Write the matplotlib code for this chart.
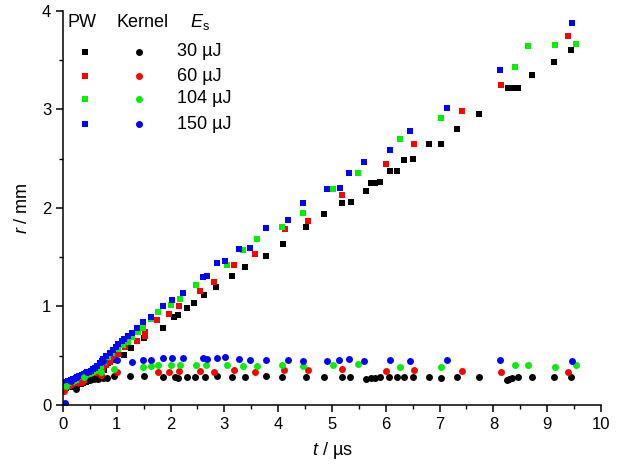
import matplotlib

matplotlib.use("Agg")

import matplotlib.pyplot as plt
from matplotlib.ticker import MultipleLocator

plt.rcParams["font.family"] = ["Liberation Sans", "DejaVu Sans"]
plt.rcParams["mathtext.fontset"] = "custom"
plt.rcParams["mathtext.rm"] = "Liberation Sans"
plt.rcParams["mathtext.it"] = "Liberation Sans:italic"

# PW (squares)
pw_t_30 = [0.02, 0.06, 0.10, 0.14, 0.18, 0.22, 0.26, 0.30, 0.34, 0.38, 0.42, 0.46, 0.50, 0.55, 0.60,
           0.65, 0.70, 0.76, 0.84, 0.94, 1.14, 1.26, 1.51, 1.85, 2.07, 2.14, 2.30, 2.44, 2.63, 2.85,
           3.14, 3.38, 3.77, 4.09, 4.52, 4.85, 5.18, 5.35, 5.64, 5.72, 5.80, 5.90, 6.08, 6.20, 6.33,
           6.51, 6.80, 7.03, 7.33, 7.73, 8.28, 8.35, 8.46, 8.72, 9.12, 9.44]
pw_r_30 = [0.17, 0.17, 0.18, 0.18, 0.19, 0.19, 0.20, 0.21, 0.21, 0.22, 0.23, 0.24, 0.25, 0.26, 0.27,
           0.29, 0.31, 0.36, 0.43, 0.46, 0.51, 0.58, 0.68, 0.78, 0.89, 0.91, 0.98, 1.04, 1.12, 1.20,
           1.31, 1.40, 1.51, 1.63, 1.81, 1.94, 2.05, 2.06, 2.17, 2.25, 2.25, 2.26, 2.38, 2.38, 2.49,
           2.50, 2.65, 2.65, 2.80, 2.95, 3.22, 3.22, 3.22, 3.35, 3.48, 3.60]

pw_t_60 = [0.00, 0.04, 0.08, 0.12, 0.16, 0.20, 0.24, 0.28, 0.32, 0.36, 0.40, 0.44, 0.48, 0.52, 0.56,
           0.60, 0.65, 0.70, 0.75, 0.80, 0.87, 0.94, 1.03, 1.16, 1.38, 1.52, 1.52, 1.75, 1.97, 2.16,
           2.55, 2.81, 3.18, 3.57, 4.12, 4.55, 5.18, 6.01, 6.52, 7.42, 8.14, 9.39]
pw_r_60 = [0.15, 0.17, 0.18, 0.19, 0.20, 0.20, 0.21, 0.22, 0.23, 0.24, 0.25, 0.26, 0.27, 0.28, 0.29,
           0.31, 0.33, 0.36, 0.38, 0.41, 0.44, 0.49, 0.52, 0.59, 0.65, 0.70, 0.74, 0.86, 0.92, 1.00,
           1.16, 1.25, 1.42, 1.53, 1.79, 1.87, 2.13, 2.45, 2.65, 2.98, 3.25, 3.75]

pw_t_104 = [0.00, 0.04, 0.08, 0.12, 0.16, 0.20, 0.24, 0.28, 0.32, 0.36, 0.40, 0.44, 0.48, 0.52, 0.56,
            0.60, 0.65, 0.70, 0.76, 0.84, 0.92, 1.03, 1.12, 1.20, 1.29, 1.39, 1.49, 1.63, 1.76, 2.01,
            2.17, 2.48, 3.05, 3.35, 3.60, 4.07, 4.47, 5.01, 5.48, 6.26, 7.03, 8.41, 8.64, 9.14, 9.54]
pw_r_104 = [0.20, 0.21, 0.22, 0.22, 0.23, 0.24, 0.25, 0.26, 0.27, 0.28, 0.29, 0.30, 0.31, 0.32, 0.33,
            0.35, 0.37, 0.40, 0.44, 0.49, 0.53, 0.57, 0.61, 0.64, 0.69, 0.74, 0.78, 0.87, 0.94, 1.02,
            1.08, 1.22, 1.42, 1.57, 1.69, 1.81, 1.95, 2.19, 2.36, 2.70, 2.91, 3.43, 3.64, 3.65, 3.66]

pw_t_150 = [0.00, 0.03, 0.06, 0.09, 0.12, 0.15, 0.18, 0.21, 0.24, 0.27, 0.30, 0.33, 0.36, 0.39, 0.42,
            0.45, 0.48, 0.52, 0.56, 0.60, 0.64, 0.68, 0.72, 0.75, 0.80, 0.87, 0.93, 0.98, 1.03, 1.09,
            1.14, 1.20, 1.28, 1.38, 1.49, 1.63, 1.86, 2.02, 2.24, 2.60, 2.67, 2.86, 3.01, 3.27, 3.48,
            3.77, 4.18, 4.47, 4.91, 5.14, 5.32, 5.59, 6.07, 6.45, 7.14, 8.12, 9.47]
pw_r_150 = [0.22, 0.23, 0.23, 0.24, 0.24, 0.25, 0.26, 0.26, 0.27, 0.28, 0.29, 0.29, 0.30, 0.31, 0.32,
            0.33, 0.34, 0.35, 0.37, 0.38, 0.40, 0.43, 0.45, 0.47, 0.50, 0.53, 0.56, 0.59, 0.62, 0.65,
            0.67, 0.70, 0.73, 0.78, 0.84, 0.89, 1.00, 1.07, 1.14, 1.30, 1.31, 1.44, 1.46, 1.58, 1.59,
            1.80, 1.88, 2.05, 2.19, 2.20, 2.36, 2.47, 2.59, 2.78, 3.02, 3.40, 3.88]

# Kernel (circles)
k_t_30 = [0.24, 0.50, 0.58, 0.66, 0.74, 0.82, 0.94, 1.25, 1.51, 1.85, 2.08, 2.14, 2.31, 2.45, 2.64,
          2.86, 3.14, 3.38, 3.77, 4.08, 4.52, 4.85, 5.18, 5.34, 5.64, 5.72, 5.80, 5.89, 6.06, 6.20,
          6.33, 6.51, 6.80, 7.02, 7.33, 7.73, 8.26, 8.29, 8.35, 8.46, 8.72, 9.13, 9.44]
k_r_30 = [0.16, 0.25, 0.26, 0.26, 0.27, 0.27, 0.29, 0.29, 0.29, 0.28, 0.28, 0.27, 0.28, 0.28, 0.28,
          0.29, 0.28, 0.28, 0.29, 0.28, 0.28, 0.28, 0.28, 0.28, 0.26, 0.27, 0.27, 0.28, 0.28, 0.28,
          0.28, 0.28, 0.28, 0.27, 0.28, 0.28, 0.25, 0.26, 0.27, 0.28, 0.28, 0.28, 0.28]

k_t_60 = [0.02, 0.35, 0.70, 1.00, 1.76, 1.97, 2.16, 2.55, 2.81, 3.18, 3.57, 4.11, 4.55, 5.18, 6.01,
          6.52, 7.41, 8.14, 9.39]
k_r_60 = [0.14, 0.23, 0.30, 0.33, 0.34, 0.33, 0.35, 0.35, 0.34, 0.36, 0.34, 0.355, 0.36, 0.37, 0.35,
          0.355, 0.345, 0.33, 0.34]

k_t_104 = [0.05, 0.40, 0.70, 0.95, 1.48, 1.63, 1.76, 2.01, 2.17, 2.47, 2.66, 3.05, 3.34, 3.60, 4.07,
           4.47, 5.01, 5.48, 6.26, 7.03, 8.41, 8.64, 9.14, 9.53]
k_r_104 = [0.19, 0.28, 0.34, 0.37, 0.39, 0.40, 0.41, 0.41, 0.41, 0.41, 0.41, 0.41, 0.40, 0.40, 0.41,
           0.40, 0.41, 0.42, 0.39, 0.39, 0.41, 0.41, 0.39, 0.41]

k_t_150 = [0.04, 0.15, 0.45, 0.75, 1.00, 1.28, 1.49, 1.63, 1.86, 2.02, 2.24, 2.61, 2.67, 2.86, 3.01,
           3.27, 3.48, 3.77, 4.19, 4.47, 4.91, 5.13, 5.32, 5.60, 6.08, 6.45, 7.14, 8.12, 9.47]
k_r_150 = [0.02, 0.24, 0.33, 0.45, 0.46, 0.44, 0.46, 0.46, 0.48, 0.48, 0.48, 0.48, 0.47, 0.48, 0.49,
           0.47, 0.46, 0.46, 0.46, 0.45, 0.45, 0.46, 0.47, 0.45, 0.46, 0.45, 0.46, 0.46, 0.45]

energies = ["30 µJ", "60 µJ", "104 µJ", "150 µJ"]
colors = ["#000000", "#ff0000", "#00ee00", "#0000ff"]

pw_series = [(pw_t_30, pw_r_30), (pw_t_60, pw_r_60), (pw_t_104, pw_r_104), (pw_t_150, pw_r_150)]
kernel_series = [(k_t_30, k_r_30), (k_t_60, k_r_60), (k_t_104, k_r_104), (k_t_150, k_r_150)]

sq_size = 4.7
dot_size = 5.0

fig = plt.figure(figsize=(6.21, 4.70), dpi=100)
ax = fig.add_axes([0.1014, 0.1383, 0.8664, 0.8383])

for (t, r), color in zip(pw_series, colors):
    ax.plot(t, r, linestyle="none", marker="s", markersize=sq_size, color=color, markeredgewidth=0)
for (t, r), color in zip(kernel_series, colors):
    ax.plot(t, r, linestyle="none", marker="o", markersize=dot_size, color=color, markeredgewidth=0)

ax.set_xlim(0, 10)
ax.set_ylim(0, 4)
ax.xaxis.set_major_locator(MultipleLocator(1))
ax.xaxis.set_minor_locator(MultipleLocator(0.5))
ax.yaxis.set_major_locator(MultipleLocator(1))
ax.yaxis.set_minor_locator(MultipleLocator(0.5))
ax.spines["top"].set_visible(False)
ax.spines["right"].set_visible(False)
for side in ("left", "bottom"):
    ax.spines[side].set_linewidth(1.1)
ax.tick_params(which="major", direction="out", length=5, width=1.1, labelsize=12)
ax.tick_params(which="minor", direction="out", length=3, width=1.0)

ax.set_xlabel(r"$\it{t}$ / µs", fontsize=13, labelpad=6)
ax.set_ylabel(r"$\it{r}$ / mm", fontsize=13, labelpad=8)

# hand-made legend: PW | Kernel | E_s
header_y = 0.972
ax.text(0.008, header_y, "PW", transform=ax.transAxes, fontsize=13, va="center", ha="left")
ax.text(0.100, header_y, "Kernel", transform=ax.transAxes, fontsize=13, va="center", ha="left")
ax.text(0.236, header_y, r"$\it{E}_\mathrm{s}$", transform=ax.transAxes, fontsize=13,
        va="center", ha="left")
row_y = [0.896, 0.835, 0.777, 0.713]
for yy, label, color in zip(row_y, energies, colors):
    ax.plot([0.041], [yy], transform=ax.transAxes, marker="s", markersize=sq_size, color=color,
            markeredgewidth=0, linestyle="none")
    ax.plot([0.141], [yy], transform=ax.transAxes, marker="o", markersize=dot_size, color=color,
            markeredgewidth=0, linestyle="none")
    ax.text(0.212, yy, label, transform=ax.transAxes, fontsize=13, va="center", ha="left")

fig.savefig("out.png", dpi=100)
